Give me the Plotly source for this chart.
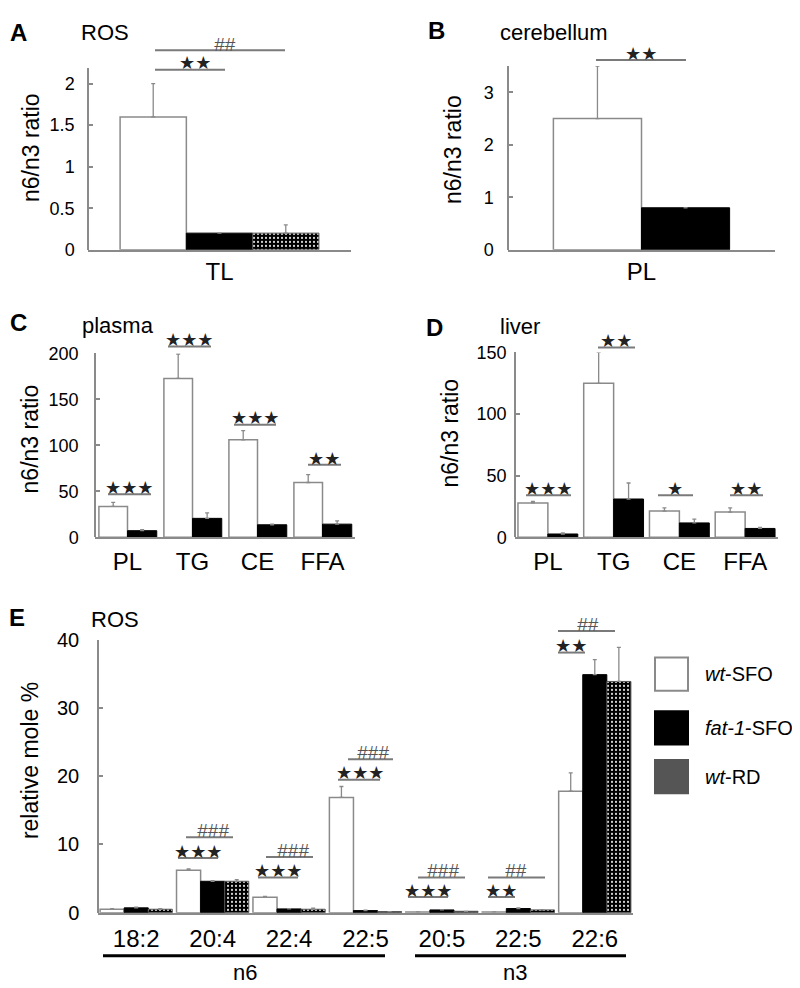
import plotly.graph_objects as go

W, H = 800, 988
FONT = "Liberation Sans, Arial, Helvetica, sans-serif"
STAR_FONT = "DejaVu Sans"
AX = "#8a8a8a"
SIG = "#7a7a7a"

# ---------------- data ----------------
groups = ["wt-SFO", "fat-1-SFO", "wt-RD"]
legend_labels = ["<i>wt</i>-SFO", "<i>fat-1</i>-SFO", "<i>wt</i>-RD"]

a_category = ["TL"]
a_mean = [1.6, 0.2, 0.2]
a_err = [0.4, 0.0, 0.1]

b_category = ["PL"]
b_mean = [2.5, 0.8]
b_err = [1.0, 0.0]

lipid_classes = ["PL", "TG", "CE", "FFA"]
c_wt = [33.5, 172.7, 106.0, 59.5]
c_wt_err = [4.3, 26.6, 10.0, 8.5]
c_fat1 = [7.1, 20.5, 13.5, 14.2]
c_fat1_err = [1.0, 6.0, 0.6, 3.5]

d_wt = [27.8, 124.9, 21.2, 20.4]
d_wt_err = [1.2, 25.1, 2.6, 3.4]
d_fat1 = [2.6, 31.0, 11.6, 7.1]
d_fat1_err = [0.8, 13.0, 3.0, 0.8]

e_fatty_acids = ["18:2", "20:4", "22:4", "22:5", "20:5", "22:5", "22:6"]
e_family = ["n6", "n6", "n6", "n6", "n3", "n3", "n3"]
e_wt = [0.5, 6.2, 2.25, 16.9, 0.1, 0.1, 17.8]
e_wt_err = [0.1, 0.2, 0.15, 1.6, 0.0, 0.0, 2.7]
e_fat1 = [0.7, 4.6, 0.55, 0.3, 0.4, 0.6, 34.9]
e_fat1_err = [0.1, 0.1, 0.05, 0.05, 0.05, 0.1, 2.2]
e_rd = [0.5, 4.6, 0.5, 0.15, 0.2, 0.4, 33.9]
e_rd_err = [0.1, 0.25, 0.15, 0.0, 0.0, 0.05, 5.0]
e_keys = [f"{fam} {fa}" for fam, fa in zip(e_family, e_fatty_acids)]


def fx(p):
    return p / W


def fy(p):
    return 1 - p / H


styles = {
    "wt-SFO": dict(color="white", line=dict(color=AX, width=1.5)),
    "fat-1-SFO": dict(color="black", line=dict(color="black", width=1)),
    "wt-RD": dict(color="black", line=dict(color="#555", width=1),
                  pattern=dict(shape=".", bgcolor="black", fgcolor="white",
                               size=4, solidity=0.22, fillmode="replace")),
}

fig = go.Figure()


def add_bars(ax_id, x, means, errs, group, offset, width):
    fig.add_trace(go.Bar(
        x=x, y=means, name=group, xaxis="x" + ax_id, yaxis="y" + ax_id,
        offset=offset, width=width, marker=styles[group],
        error_y=dict(type="data", array=errs, arrayminus=[0] * len(errs),
                     symmetric=False, color=AX, thickness=1.3, width=2),
        showlegend=False))


for g, m, e, off in zip(groups, a_mean, a_err, [-0.378, -0.126, 0.126]):
    add_bars("", a_category, [m], [e], g, off, 0.252)
for g, m, e, off in zip(groups[:2], b_mean, b_err, [-0.33, 0.0]):
    add_bars("2", b_category, [m], [e], g, off, 0.33)
add_bars("3", lipid_classes, c_wt, c_wt_err, groups[0], -0.44, 0.44)
add_bars("3", lipid_classes, c_fat1, c_fat1_err, groups[1], 0.0, 0.45)
add_bars("4", lipid_classes, d_wt, d_wt_err, groups[0], -0.455, 0.455)
add_bars("4", lipid_classes, d_fat1, d_fat1_err, groups[1], 0.0, 0.455)
for g, m, e, off in zip(groups, [e_wt, e_fat1, e_rd], [e_wt_err, e_fat1_err, e_rd_err],
                        [-0.4725, -0.1575, 0.1575]):
    add_bars("5", e_keys, m, e, g, off, 0.315)

layout = dict(
    width=W, height=H, margin=dict(l=0, r=0, t=0, b=0),
    paper_bgcolor="white", plot_bgcolor="white", barmode="overlay",
    font=dict(family=FONT, color="black"), showlegend=False,
)


def set_axes(ax_id, xdom, ydom, ncat, yrange, dtick, ytick_size, y_standoff,
             x_standoff, tickvals=None, ticktext=None):
    xa = dict(domain=[fx(xdom[0]), fx(xdom[1])], anchor="y" + ax_id,
              type="category", range=[-0.5, ncat - 0.5], autorange=False,
              showline=True, linecolor=AX, linewidth=1.5, ticks="",
              showgrid=False, zeroline=False,
              tickfont=dict(size=24, color="black", family=FONT),
              ticklabelstandoff=x_standoff)
    if tickvals is not None:
        xa.update(tickmode="array", tickvals=tickvals, ticktext=ticktext)
    ya = dict(domain=[fy(ydom[1]), fy(ydom[0])], anchor="free",
              position=fx(xdom[0]),
              range=yrange, dtick=dtick, tick0=0,
              showline=True, linecolor=AX, linewidth=1.5,
              ticks="inside", ticklen=4, tickcolor=AX, tickwidth=1.5,
              showgrid=False, zeroline=False,
              tickfont=dict(size=ytick_size, color="black", family=FONT),
              ticklabelstandoff=y_standoff)
    layout["xaxis" + ax_id] = xa
    layout["yaxis" + ax_id] = ya


set_axes("", (80, 343), (50, 236), 1, [0, 2.19], 0.5, 18, 9, 0)
set_axes("2", (500, 767), (48, 236), 1, [0, 3.503], 1, 18, 10, 0)
set_axes("3", (87, 347), (342, 530), 4, [0, 200], 50, 18, 12, 2)
set_axes("4", (507, 770), (341, 530), 4, [0, 150], 50, 18, 4, 2)
set_axes("5", (90, 625), (635, 914), 7, [0, 40], 10, 20, 14, 4,
         tickvals=e_keys, ticktext=e_fatty_acids)

annotations = []
shapes = []


def text(x, y, s, size, bold=False, angle=0, xanchor="center", family=FONT,
         color="black"):
    if bold:
        s = "<b>" + s + "</b>"
    annotations.append(dict(x=fx(x), y=fy(y), xref="paper", yref="paper",
                            text=s, showarrow=False, textangle=angle,
                            xanchor=xanchor, yanchor="middle",
                            font=dict(size=size, family=family, color=color)))


def hline(x0, x1, y, color=SIG, width=2):
    shapes.append(dict(type="line", xref="paper", yref="paper",
                       x0=fx(x0), x1=fx(x1), y0=fy(y), y1=fy(y),
                       line=dict(color=color, width=width)))


def stars(x0, x1, yline, label, tx, ty):
    hline(x0, x1, yline)
    text(tx, ty, label, 18, family=STAR_FONT, color="#222")


def hashes(x0, x1, yline, label, tx, ty):
    hline(x0, x1, yline)
    text(tx, ty, "<i>" + label + "</i>", 19, color="#555")


text(10, 14, "A", 24, bold=True)
text(97, 14, "ROS", 22)
text(428, 12, "B", 24, bold=True)
text(546, 14, "cerebellum", 22)
text(10, 310, "C", 24, bold=True)
text(110, 313, "plasma", 22)
text(427, 316, "D", 24, bold=True)
text(512, 314, "liver", 22)
text(9, 612, "E", 24, bold=True)
text(107, 614, "ROS", 22)

text(23, 132, "n6/n3 ratio", 23, angle=-90)
text(445, 134, "n6/n3 ratio", 23, angle=-90)
text(22, 430, "n6/n3 ratio", 23, angle=-90)
text(442, 424, "n6/n3 ratio", 23, angle=-90)
text(22, 759, "relative mole %", 23, angle=-90)

stars(147, 217, 52, "★★", 187, 45)
hashes(147, 277, 32, "##", 217, 26)
stars(588, 678, 42, "★★", 633, 35)
stars(100, 143, 486, "★★★", 121, 479)
stars(160, 203, 335, "★★★", 181, 328)
stars(226, 268, 415, "★★★", 247, 408)
stars(300, 333, 456, "★★", 316, 449)
stars(518, 563, 487, "★★★", 540, 480)
stars(590, 627, 336, "★★", 608, 329)
stars(650, 685, 487, "★", 667, 480)
stars(722, 755, 487, "★★", 738, 480)
stars(170, 210, 858, "★★★", 190, 851)
hashes(178, 225, 837, "###", 205, 830)
stars(250, 290, 878, "★★★", 270, 871)
hashes(258, 305, 857, "###", 285, 850)
stars(330, 372, 778, "★★★", 352, 771)
hashes(340, 385, 757, "###", 365, 750)
stars(400, 440, 898, "★★★", 420, 891)
hashes(410, 457, 878, "###", 435, 871)
stars(480, 507, 898, "★★", 493, 891)
hashes(480, 537, 878, "##", 508, 871)
stars(550, 577, 648, "★★", 563, 641)
hashes(550, 607, 626, "##", 580, 619)

hline(95, 377, 958, color="black", width=3)
hline(407, 618, 958, color="black", width=3)
text(237, 975, "n6", 22)
text(507, 975, "n3", 22)

legend_y = [(653, 687), (708, 742), (758, 792)]
legend_fill = ["white", "black", "#555555"]
legend_line = [AX, "black", "#555"]
for (y0, y1), fc, lc, lab in zip(legend_y, legend_fill, legend_line, legend_labels):
    shapes.append(dict(type="rect", xref="paper", yref="paper",
                       x0=fx(647), x1=fx(680), y0=fy(y1), y1=fy(y0),
                       fillcolor=fc, line=dict(color=lc, width=2)))
    text(695, (y0 + y1) / 2, lab, 20, xanchor="left")

layout["annotations"] = annotations
layout["shapes"] = shapes
fig.update_layout(**layout)
fig.write_html("out.html")
